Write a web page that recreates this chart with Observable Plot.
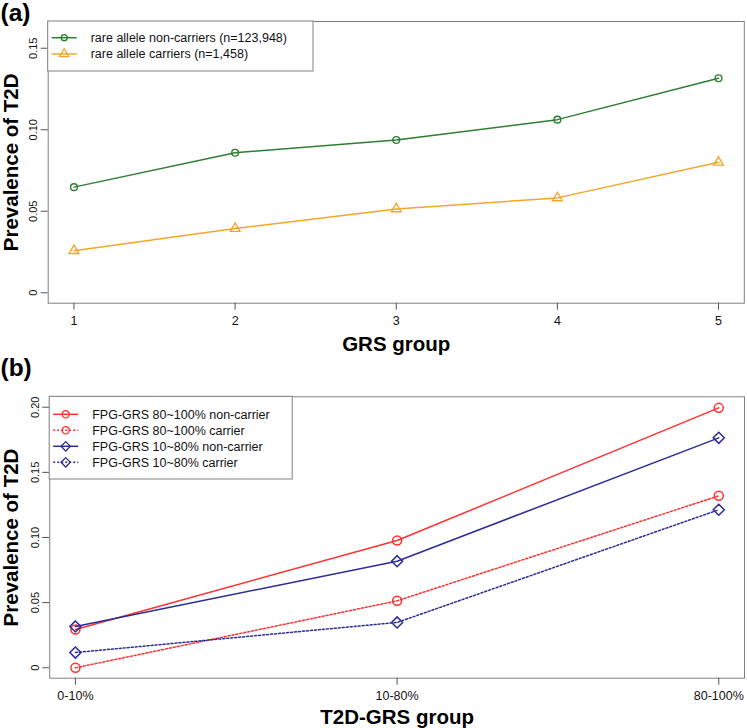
<!DOCTYPE html>
<html><head><meta charset="utf-8">
<script src="https://cdn.jsdelivr.net/npm/d3@7"></script>
<script src="https://cdn.jsdelivr.net/npm/@observablehq/plot@0.6"></script>
<style>
body{margin:0;background:#fff;}
#wrap{position:relative;width:747px;height:728px;}
#wrap svg{position:absolute;left:0;}
</style></head><body><div id="wrap"></div>
<script>
// ---- Panel (a) data ----
const grsGroups = [1, 2, 3, 4, 5];
const nonCarrierA = [0.0648, 0.0859, 0.0937, 0.1062, 0.1316];
const carrierA = [0.0258, 0.0394, 0.0514, 0.0582, 0.0800];
const seriesA = ["rare allele non-carriers (n=123,948)", "rare allele carriers (n=1,458)"];
const yTicksA = [0, 0.05, 0.10, 0.15];
const yTickLabelsA = ["0", "0.05", "0.10", "0.15"];

// ---- Panel (b) data ----
const t2dGroups = ["0-10%", "10-80%", "80-100%"];
const fpgHighNon = [0.0294, 0.0977, 0.1995];
const fpgHighCar = [0.0000, 0.0514, 0.1320];
const fpgMidNon = [0.0317, 0.0818, 0.1765];
const fpgMidCar = [0.0117, 0.0348, 0.1213];
const seriesB = ["FPG-GRS 80~100% non-carrier", "FPG-GRS 80~100% carrier", "FPG-GRS 10~80% non-carrier", "FPG-GRS 10~80% carrier"];
const yTicksB = [0, 0.05, 0.10, 0.15, 0.20];
const yTickLabelsB = ["0", "0.05", "0.10", "0.15", "0.20"];

const FONT = "'Liberation Sans', Arial, Helvetica, sans-serif";
const GREEN = "#2e7d32", ORANGE = "#f4a62a", RED = "#ff3030", BLUE = "#2c2c96";
const DOT = "2,2";
const wrap = document.getElementById("wrap");

function addLegend(svg, box, items) {
  const g = d3.select(svg).append("g");
  g.append("rect").attr("x", box.x).attr("y", box.y).attr("width", box.w).attr("height", box.h)
    .attr("fill", "white").attr("stroke", "#808080").attr("stroke-width", 1);
  items.forEach((it, i) => {
    const cy = box.row0 + i * box.step;
    g.append("line").attr("x1", box.x + 4).attr("x2", box.x + 29).attr("y1", cy).attr("y2", cy)
      .attr("stroke", it.color).attr("stroke-width", 1.5).attr("stroke-dasharray", it.dash || null);
    g.append("path").attr("transform", `translate(${box.x + 16.5},${cy})`)
      .attr("d", d3.symbol().type(it.symbol).size(Math.PI * it.r * it.r)())
      .attr("fill", "none").attr("stroke", it.color).attr("stroke-width", 1.3);
    g.append("text").attr("x", box.x + 43).attr("y", cy).attr("dy", "0.35em")
      .style("text-anchor", "start").style("font-size", "12.5px").style("font-family", FONT)
      .attr("fill", "#111").text(it.label);
  });
}

// ---------- Panel (a) ----------
const rowsA = [];
grsGroups.forEach((g, i) => {
  rowsA.push({g, v: nonCarrierA[i], s: seriesA[0]});
  rowsA.push({g, v: carrierA[i], s: seriesA[1]});
});
const HA = 350;
const plotA = Plot.plot({
  width: 747, height: HA,
  marginTop: 21, marginBottom: HA - 302.7, marginLeft: 47.7, marginRight: 3.2,
  x: {domain: [0.84, 5.16]},
  y: {domain: [-0.0064, 0.1664]},
  style: {fontFamily: FONT, background: "transparent", overflow: "visible", color: "#111"},
  marks: [
    Plot.frame({stroke: "#808080"}),
    Plot.axisX({ticks: grsGroups, tickFormat: d => String(d), tickSize: 7, tickPadding: 6, fontSize: 12.5, label: null, stroke: "#555"}),
    Plot.axisY({ticks: yTicksA, tickFormat: d => yTickLabelsA[yTicksA.indexOf(d)], tickRotate: -90, tickSize: 7, tickPadding: 4, fontSize: 11, label: null, stroke: "#555"}),
    Plot.lineY(rowsA.filter(d => d.s === seriesA[0]), {x: "g", y: "v", stroke: GREEN, strokeWidth: 1.5}),
    Plot.lineY(rowsA.filter(d => d.s === seriesA[1]), {x: "g", y: "v", stroke: ORANGE, strokeWidth: 1.5}),
    Plot.dot(rowsA.filter(d => d.s === seriesA[0]), {x: "g", y: "v", r: 3.4, symbol: "circle", stroke: GREEN, strokeWidth: 1.4, fill: "none"}),
    Plot.dot(rowsA.filter(d => d.s === seriesA[1]), {x: "g", y: "v", r: 3.6, symbol: "triangle", stroke: ORANGE, strokeWidth: 1.4, fill: "none"}),
    Plot.text(["GRS group"], {frameAnchor: "bottom", dy: 41, fontSize: 20.5, fontWeight: "bold", lineAnchor: "middle", fill: "#000"}),
    Plot.text(["Prevalence of T2D"], {frameAnchor: "left", dx: -36.5, rotate: -90, fontSize: 20.5, fontWeight: "bold", lineAnchor: "middle", textAnchor: "middle", fill: "#000"}),
    Plot.text(["(a)"], {frameAnchor: "top-left", dx: -47.7, dy: -8.5, fontSize: 24.5, fontWeight: "bold", textAnchor: "start", lineAnchor: "middle", fill: "#000"})
  ]
});
plotA.style.top = "0px";
wrap.appendChild(plotA);
addLegend(plotA, {x: 47.7, y: 21, w: 265.3, h: 50, row0: 37.7, step: 16.3}, [
  {label: seriesA[0], color: GREEN, symbol: d3.symbolCircle, r: 3},
  {label: seriesA[1], color: ORANGE, symbol: d3.symbolTriangle, r: 3.4}
]);

// ---------- Panel (b) ----------
const seriesBVals = [fpgHighNon, fpgHighCar, fpgMidNon, fpgMidCar];
const styleB = [
  {color: RED, dash: null, symbol: "circle", r: 4.5},
  {color: RED, dash: DOT, symbol: "circle", r: 4.5},
  {color: BLUE, dash: null, symbol: "diamond2", r: 5},
  {color: BLUE, dash: DOT, symbol: "diamond2", r: 5}
];
const rowsB = [];
seriesB.forEach((s, k) => t2dGroups.forEach((grp, i) => rowsB.push({idx: i + 1, grp, v: seriesBVals[k][i], s})));
const TOPB = 350, HB = 378;
const marksB = [];
seriesB.forEach((s, k) => {
  const st = styleB[k];
  marksB.push(Plot.lineY(rowsB.filter(d => d.s === s), {x: "idx", y: "v", stroke: st.color, strokeWidth: 1.5, strokeDasharray: st.dash}));
  marksB.push(Plot.dot(rowsB.filter(d => d.s === s), {x: "idx", y: "v", r: st.r, symbol: st.symbol, stroke: st.color, strokeWidth: 1.5, fill: "none"}));
});
const plotB = Plot.plot({
  width: 747, height: HB,
  marginTop: 396.3 - TOPB, marginBottom: TOPB + HB - 677.7, marginLeft: 49.2, marginRight: 3,
  x: {domain: [0.92, 3.08]},
  y: {domain: [-0.008, 0.208]},
  style: {fontFamily: FONT, background: "transparent", overflow: "visible", color: "#111"},
  marks: [
    Plot.frame({stroke: "#808080"}),
    Plot.axisX({ticks: [1, 2, 3], tickFormat: d => t2dGroups[d - 1], tickSize: 7, tickPadding: 6, fontSize: 12.5, label: null, stroke: "#555"}),
    Plot.axisY({ticks: yTicksB, tickFormat: d => yTickLabelsB[yTicksB.indexOf(d)], tickRotate: -90, tickSize: 7, tickPadding: 4, fontSize: 11, label: null, stroke: "#555"}),
    ...marksB,
    Plot.text(["T2D-GRS group"], {frameAnchor: "bottom", dy: 39, fontSize: 20.5, fontWeight: "bold", lineAnchor: "middle", fill: "#000"}),
    Plot.text(["Prevalence of T2D"], {frameAnchor: "left", dx: -38, rotate: -90, fontSize: 20.5, fontWeight: "bold", lineAnchor: "middle", textAnchor: "middle", fill: "#000"}),
    Plot.text(["(b)"], {frameAnchor: "top-left", dx: -49.2, dy: -29, fontSize: 24.5, fontWeight: "bold", textAnchor: "start", lineAnchor: "middle", fill: "#000"})
  ]
});
plotB.style.top = TOPB + "px";
wrap.appendChild(plotB);
addLegend(plotB, {x: 49.2, y: 396.3 - TOPB, w: 243, h: 479 - 396.3, row0: 414.3 - TOPB, step: 16}, [
  {label: seriesB[0], color: RED, symbol: d3.symbolCircle, r: 3.6},
  {label: seriesB[1], color: RED, dash: DOT, symbol: d3.symbolCircle, r: 3.6},
  {label: seriesB[2], color: BLUE, symbol: d3.symbolDiamond2 || d3.symbolDiamond, r: 4.2},
  {label: seriesB[3], color: BLUE, dash: DOT, symbol: d3.symbolDiamond2 || d3.symbolDiamond, r: 4.2}
]);
</script></body></html>
